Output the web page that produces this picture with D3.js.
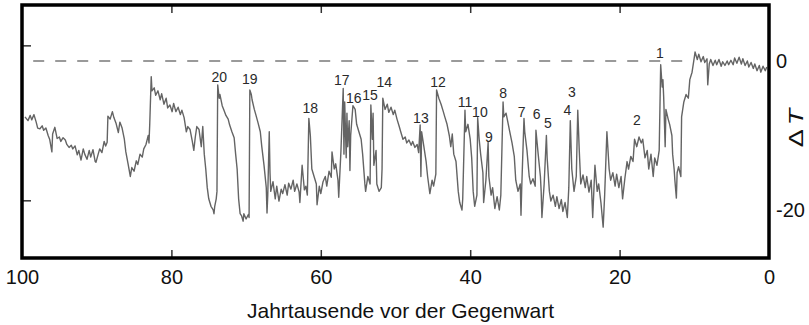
<!DOCTYPE html>
<html>
<head>
<meta charset="utf-8">
<script src="https://cdn.jsdelivr.net/npm/d3@7"></script>
<style>
  body { margin: 0; background: #fff; }
  svg { display: block; font-family: "Liberation Sans", Arial, sans-serif; }
</style>
</head>
<body>
<svg id="chart" width="809" height="325"></svg>
<script>
// x: thousand years before present, y: temperature anomaly (°C)
const xTicks = [100, 80, 60, 40, 20, 0];
const yTicks = [0, -20];
const leftTicks = [2.1, -18.7]; // unlabelled ticks on the left frame
const refLine = [98.5, 10.8];   // extent of the dashed 0-line

// Dansgaard-Oeschger event numbers and where their labels sit
const eventIds = [1, 2, 3, 4, 5, 6, 7, 8, 9, 10, 11, 12, 13, 14, 15, 16, 17, 18, 19, 20];
const eventAge = [14.6, 17.7, 26.4, 27.0, 29.6, 31.1, 33.1, 35.6, 37.5, 38.7, 40.7, 44.3, 46.6, 51.5, 53.4, 55.6, 57.2, 61.4, 69.5, 73.6];
const eventLabelT = [0.4, -8.6, -4.8, -7.2, -9.0, -7.8, -7.5, -5.0, -10.9, -7.5, -6.2, -3.5, -8.3, -3.5, -5.2, -5.6, -3.2, -7.0, -3.1, -2.8];

// ice-core record: [age, ΔT]
const record = [
  [99.6,-7.5],[99.2,-8.0],[98.9,-7.3],[98.7,-7.9],[98.4,-7.2],[98.1,-8.2],[97.9,-9.0],[97.6,-9.1],[97.3,-8.7],[97.1,-9.3],
  [96.8,-9.0],[96.5,-10.0],[96.3,-10.5],[96.0,-12.2],[95.9,-9.8],[95.6,-8.9],[95.3,-10.4],[95.0,-10.2],[94.8,-10.8],[94.5,-10.3],
  [94.2,-10.6],[94.0,-11.2],[93.7,-11.6],[93.4,-11.3],[93.2,-11.8],[92.9,-11.4],[92.6,-12.6],[92.4,-12.0],[92.1,-13.3],[91.8,-11.8],
  [91.6,-12.5],[91.3,-13.2],[91.0,-12.0],[90.8,-12.9],[90.5,-11.9],[90.2,-13.5],[90.1,-13.6],[89.8,-12.5],[89.6,-11.8],[89.3,-12.3],
  [89.0,-10.8],[88.8,-11.4],[88.6,-10.9],[88.5,-7.4],[88.2,-7.8],[87.9,-6.8],[87.7,-7.6],[87.4,-8.4],[87.1,-9.6],[86.9,-8.2],
  [86.6,-9.0],[86.3,-10.5],[86.1,-12.2],[85.8,-13.8],[85.5,-15.5],[85.3,-14.3],[85.0,-14.8],[84.7,-13.4],[84.5,-13.9],[84.2,-12.5],
  [83.9,-12.9],[83.7,-11.8],[83.4,-11.2],[83.1,-10.0],[83.0,-11.0],[82.9,-8.5],[82.7,-2.1],[82.6,-4.0],[82.3,-3.6],[82.1,-4.6],
  [81.8,-4.0],[81.5,-5.2],[81.3,-4.4],[81.0,-5.8],[80.7,-5.0],[80.5,-6.3],[80.2,-5.9],[79.9,-6.8],[79.7,-5.7],[79.4,-6.8],
  [79.1,-6.2],[78.8,-7.2],[78.6,-6.6],[78.3,-7.6],[78.0,-9.5],[77.8,-8.8],[77.5,-9.2],[77.2,-10.8],[77.0,-12.0],[76.8,-10.2],
  [76.6,-8.8],[76.3,-9.2],[76.0,-11.5],[75.8,-8.8],[75.6,-12.5],[75.4,-14.5],[75.2,-17.0],[75.0,-18.5],[74.7,-19.5],[74.4,-20.0],
  [74.3,-20.5],[74.2,-19.5],[74.0,-18.5],[73.9,-17.5],[73.8,-3.2],[73.6,-5.0],[73.5,-4.5],[73.2,-6.0],[73.0,-6.5],[72.7,-7.3],
  [72.4,-7.8],[72.2,-8.6],[71.9,-9.5],[71.6,-10.3],[71.4,-12.5],[71.2,-14.5],[71.1,-16.5],[71.0,-18.5],[70.8,-20.5],[70.6,-20.8],
  [70.4,-21.5],[70.3,-20.5],[70.0,-21.2],[69.7,-20.6],[69.6,-21.0],[69.5,-3.9],[69.3,-4.5],[69.2,-5.2],[68.9,-6.5],[68.7,-7.2],
  [68.4,-8.3],[68.1,-9.5],[67.9,-11.5],[67.6,-14.0],[67.3,-17.0],[67.2,-20.4],[67.1,-18.0],[66.9,-9.5],[66.8,-15.0],[66.7,-17.5],
  [66.4,-16.2],[66.1,-18.5],[65.9,-16.8],[65.6,-18.8],[65.3,-17.2],[65.1,-17.8],[64.8,-16.6],[64.5,-18.0],[64.3,-16.4],[64.0,-17.2],
  [63.7,-16.0],[63.5,-17.5],[63.2,-16.5],[62.9,-17.6],[62.8,-19.0],[62.5,-14.0],[62.2,-17.3],[62.0,-16.8],[61.8,-18.0],[61.6,-7.7],
  [61.4,-10.0],[61.2,-14.5],[60.9,-15.5],[60.6,-16.5],[60.5,-19.3],[60.2,-16.8],[60.0,-17.8],[59.7,-16.2],[59.4,-15.5],[59.2,-16.8],
  [58.9,-14.8],[58.6,-15.6],[58.5,-12.2],[58.2,-14.5],[58.0,-13.8],[57.7,-16.0],[57.6,-18.3],[57.3,-12.0],[57.0,-3.7],[56.9,-12.5],
  [56.8,-5.5],[56.6,-13.0],[56.5,-7.0],[56.4,-11.5],[56.2,-8.0],[56.1,-14.7],[56.0,-10.0],[55.7,-6.0],[55.4,-6.5],[55.2,-8.5],
  [54.9,-9.5],[54.6,-10.5],[54.4,-12.5],[54.1,-16.5],[54.0,-17.5],[53.7,-15.5],[53.4,-16.5],[53.3,-5.9],[53.1,-10.5],[53.0,-7.0],
  [52.9,-14.0],[52.6,-12.0],[52.5,-16.5],[52.2,-17.5],[51.9,-17.0],[51.8,-14.5],[51.7,-5.0],[51.4,-6.5],[51.1,-5.8],[50.9,-6.9],
  [50.6,-6.2],[50.3,-7.2],[50.1,-6.6],[49.8,-7.8],[49.5,-8.8],[49.3,-9.5],[49.0,-10.5],[48.7,-10.2],[48.5,-11.0],[48.2,-10.6],
  [47.9,-11.3],[47.7,-10.8],[47.4,-11.6],[47.1,-11.2],[46.9,-12.3],[46.7,-8.6],[46.6,-15.5],[46.5,-9.5],[46.2,-11.5],[45.9,-13.5],
  [45.7,-15.5],[45.4,-17.8],[45.1,-16.0],[44.9,-16.8],[44.6,-15.2],[44.5,-3.9],[44.2,-5.0],[43.9,-5.8],[43.6,-6.8],[43.4,-7.5],
  [43.1,-8.5],[42.8,-10.0],[42.6,-11.5],[42.4,-9.8],[42.2,-12.5],[41.9,-13.5],[41.6,-17.5],[41.4,-19.0],[41.1,-20.0],[41.0,-18.5],
  [40.7,-6.6],[40.6,-9.5],[40.3,-8.5],[40.0,-10.5],[39.8,-13.0],[39.6,-17.5],[39.4,-19.5],[39.1,-18.0],[39.0,-7.6],[38.8,-10.5],
  [38.6,-12.5],[38.3,-15.0],[38.2,-19.0],[37.9,-16.0],[37.6,-10.9],[37.5,-15.5],[37.2,-18.0],[37.0,-17.0],[36.7,-19.8],[36.4,-18.2],
  [36.1,-20.0],[35.9,-18.0],[35.6,-5.5],[35.5,-7.5],[35.2,-7.0],[34.9,-8.5],[34.7,-9.5],[34.4,-11.0],[34.1,-12.8],[33.9,-16.0],
  [33.6,-17.5],[33.3,-16.5],[33.2,-20.7],[33.1,-17.0],[32.8,-7.7],[32.7,-9.5],[32.4,-12.0],[32.1,-15.5],[31.9,-16.5],[31.6,-15.8],
  [31.3,-16.8],[31.2,-9.3],[30.9,-12.5],[30.6,-15.5],[30.5,-17.5],[30.4,-21.0],[30.1,-16.5],[29.8,-10.0],[29.7,-13.0],[29.4,-17.5],
  [29.2,-18.8],[28.9,-18.0],[28.6,-19.5],[28.4,-18.2],[28.1,-19.8],[27.8,-18.6],[27.6,-20.2],[27.3,-19.0],[27.0,-21.0],[26.8,-17.0],
  [26.6,-8.0],[26.4,-14.5],[26.1,-17.5],[25.8,-15.5],[25.6,-6.6],[25.4,-12.0],[25.2,-16.5],[24.9,-15.3],[24.6,-17.0],[24.4,-15.5],
  [24.1,-17.6],[23.8,-16.0],[23.6,-21.0],[23.3,-14.0],[23.0,-17.5],[22.8,-16.5],[22.5,-19.0],[22.2,-22.3],[22.0,-18.0],[21.7,-9.5],
  [21.4,-14.5],[21.2,-16.0],[20.9,-15.0],[20.6,-16.8],[20.4,-15.2],[20.1,-17.0],[19.8,-15.5],[19.6,-18.5],[19.3,-15.8],[19.0,-13.5],
  [18.8,-14.5],[18.5,-12.8],[18.2,-13.5],[18.0,-10.5],[17.7,-11.5],[17.4,-10.2],[17.1,-11.0],[16.9,-10.5],[16.6,-13.0],[16.3,-12.0],
  [16.1,-14.5],[15.8,-12.5],[15.5,-15.5],[15.3,-13.0],[15.0,-14.0],[14.7,-12.0],[14.5,-0.5],[14.3,-3.5],[14.2,-2.5],[14.1,-4.8],
  [13.9,-11.5],[13.8,-6.5],[13.5,-7.8],[13.3,-8.5],[13.0,-10.0],[12.9,-12.5],[12.7,-14.5],[12.6,-16.0],[12.4,-18.4],[12.3,-15.0],
  [12.1,-14.2],[11.8,-15.5],[11.7,-7.5],[11.4,-5.5],[11.1,-4.5],[10.8,-5.0],[10.6,-2.5],[10.3,-1.5],[10.0,0.5],[9.9,1.2],
  [9.6,0.2],[9.4,0.9],[9.1,-0.1],[8.8,0.6],[8.6,-0.2],[8.3,0.3],[8.2,-3.2],[8.0,-0.4],[7.8,0.2],[7.5,-0.6],
  [7.2,0.1],[7.0,-0.5],[6.7,0.2],[6.4,-0.7],[6.2,-0.1],[5.9,-0.6],[5.6,0.0],[5.4,-0.5],[5.1,0.1],[4.8,-0.5],
  [4.6,0.4],[4.3,-0.3],[4.0,0.5],[3.7,-0.4],[3.5,0.3],[3.2,-0.6],[2.9,0.0],[2.7,-0.8],[2.4,-0.2],[2.1,-1.0],
  [1.9,-0.4],[1.6,-1.3],[1.3,-0.6],[1.1,-1.5],[0.8,-0.7],[0.5,-1.3],[0.3,-0.8]
];

const frame = { left: 22, right: 769, top: 5, bottom: 258 };

const svg = d3.select('#chart');

const x = d3.scaleLinear().domain([100, 0]).range([frame.left, frame.right]);
const y = d3.scaleLinear().domain([0, -20]).range([61, 210]);

// dashed reference line at ΔT = 0
svg.append('line')
  .attr('x1', x(refLine[0]))
  .attr('x2', x(refLine[1]))
  .attr('y1', y(0))
  .attr('y2', y(0))
  .attr('stroke', '#9a9a9a')
  .attr('stroke-width', 2)
  .attr('stroke-dasharray', '11,11');

// temperature curve
const line = d3.line()
  .x(d => x(d[0]))
  .y(d => y(d[1]));

svg.append('path')
  .datum(record)
  .attr('fill', 'none')
  .attr('stroke', '#646464')
  .attr('stroke-width', 1.4)
  .attr('stroke-linejoin', 'round')
  .attr('d', line);

// event numbers
svg.append('g')
  .selectAll('text')
  .data(eventIds)
  .join('text')
  .attr('x', (d, i) => x(eventAge[i]))
  .attr('y', (d, i) => y(eventLabelT[i]))
  .attr('text-anchor', 'middle')
  .attr('font-size', 14)
  .attr('fill', '#2a2a2a')
  .text(d => d);

// bottom axis with labels, ticks pointing inward
const xAxis = svg.append('g')
  .attr('transform', `translate(0,${frame.bottom})`)
  .call(d3.axisBottom(x).tickValues(xTicks).tickSize(-8).tickPadding(12).tickFormat(d => String(d)));

// top ticks only
const xTop = svg.append('g')
  .attr('transform', `translate(0,${frame.top})`)
  .call(d3.axisTop(x).tickValues(xTicks.slice(1, -1)).tickSize(-8).tickFormat(''));

// left inner ticks
const yLeft = svg.append('g')
  .attr('transform', `translate(${frame.left},0)`)
  .call(d3.axisLeft(y).tickValues(leftTicks).tickSize(-9).tickFormat(''));

// right labels
const yRight = svg.append('g')
  .attr('transform', `translate(${frame.right},0)`)
  .call(d3.axisRight(y).tickValues(yTicks).tickSize(0).tickPadding(7).tickFormat(d => String(d)));

[xAxis, xTop, yLeft, yRight].forEach(g => {
  g.select('.domain').remove();
  g.selectAll('.tick line').attr('stroke', '#333').attr('stroke-width', 1.5);
  g.selectAll('text')
    .attr('font-family', '"Liberation Sans", Arial, sans-serif')
    .attr('font-size', 20)
    .attr('fill', '#111');
});
xAxis.selectAll('.tick').filter(d => d === 100 || d === 0).select('line').remove();

// frame
svg.append('rect')
  .attr('x', frame.left)
  .attr('y', frame.top)
  .attr('width', frame.right - frame.left)
  .attr('height', frame.bottom - frame.top)
  .attr('fill', 'none')
  .attr('stroke', '#000')
  .attr('stroke-width', 3.5);

// axis titles
svg.append('text')
  .attr('x', (frame.left + frame.right) / 2 + 5)
  .attr('y', 318)
  .attr('text-anchor', 'middle')
  .attr('font-size', 21)
  .attr('fill', '#111')
  .text('Jahrtausende vor der Gegenwart');

const yTitle = svg.append('text')
  .attr('transform', `translate(803,128) rotate(-90) scale(1.35,1)`)
  .attr('text-anchor', 'middle')
  .attr('font-size', 20)
  .attr('fill', '#111');
yTitle.append('tspan').text('Δ');
yTitle.append('tspan').attr('font-style', 'italic').attr('dx', 3).text('T');
</script>
</body>
</html>
